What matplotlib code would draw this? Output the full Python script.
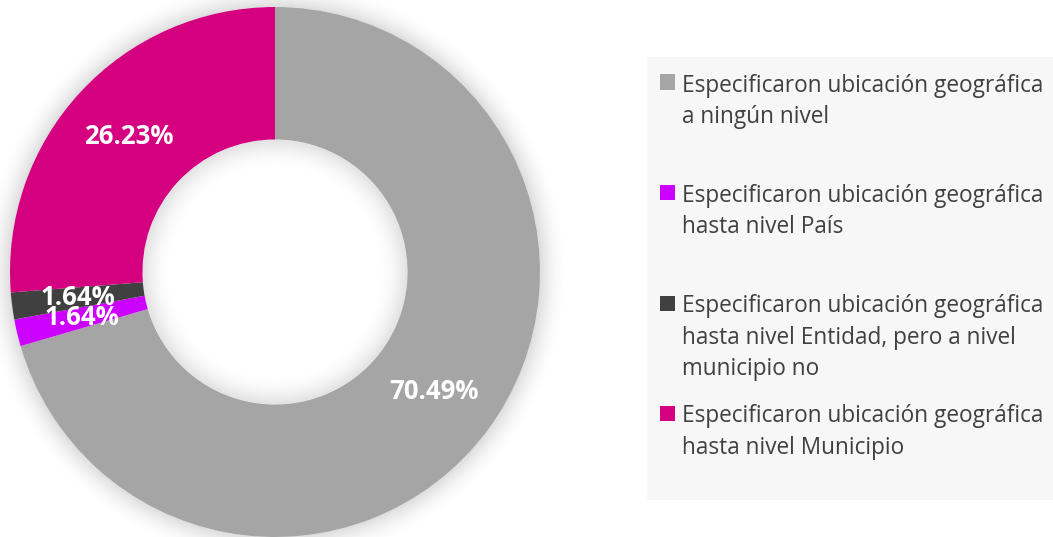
import matplotlib
matplotlib.use('Agg')
import matplotlib.pyplot as plt
from matplotlib.patches import Rectangle
import numpy as np

plt.rcParams['font.family'] = ['Open Sans', 'DejaVu Sans']

categorias = [
    'Especificaron ubicación geográfica\na ningún nivel',
    'Especificaron ubicación geográfica\nhasta nivel País',
    'Especificaron ubicación geográfica\nhasta nivel Entidad, pero a nivel\nmunicipio no',
    'Especificaron ubicación geográfica\nhasta nivel Municipio',
]
porcentajes = [70.49, 1.64, 1.64, 26.23]
colores = ['#A5A5A5', '#CC00FF', '#404040', '#D5007F']

W, H = 1053, 537
fig = plt.figure(figsize=(W / 100, H / 100), dpi=100)
fig.patch.set_facecolor('white')

# donut axes: centre at (275, 265) px from bottom-left, radius 265 px
cx, cy, R = 275, 265, 265
ax_w = 600
ax = fig.add_axes([0, 0, ax_w / W, 1])
xlim = (-cx / R, (ax_w - cx) / R)
ylim = (-cy / R, (H - cy) / R)

# soft shadow around the ring and inside the hole
gx = np.linspace(xlim[0], xlim[1], 900)
gy = np.linspace(ylim[0], ylim[1], 800)
X, Y = np.meshgrid(gx, gy)
r = np.hypot(X, Y) * R
d_out = np.clip(r - R, 0, None)
d_in = np.clip(R * 0.5 - r, 0, None)
alpha = np.zeros_like(r)
m_out = r > R
m_in = r < R * 0.5
alpha[m_out] = 0.14 * np.clip(1 - d_out[m_out] / 30, 0, 1) ** 2
alpha[m_in] = 0.12 * np.clip(1 - d_in[m_in] / 32, 0, 1) ** 2
shadow = np.zeros(r.shape + (4,))
shadow[..., 3] = alpha
ax.imshow(shadow, extent=(xlim[0], xlim[1], ylim[0], ylim[1]), origin='lower',
          zorder=0, interpolation='bilinear')

wedges, _, autotexts = ax.pie(
    porcentajes, colors=colores, startangle=90, counterclock=False,
    radius=1, wedgeprops=dict(width=0.5, linewidth=0),
    autopct='%.2f%%', pctdistance=0.75,
    textprops=dict(color='white', fontsize=18.5, fontweight='bold'))
for w in wedges:
    w.set_zorder(2)
for t in autotexts:
    t.set_zorder(3)
ax.set_xlim(*xlim)
ax.set_ylim(*ylim)
ax.set_aspect('auto')
ax.axis('off')

# legend panel
def fx(px):
    return px / W

def fy(py):
    return 1 - py / H

fig.patches.append(Rectangle((fx(647), fy(500)), fx(W - 647), 443 / H,
                             transform=fig.transFigure, facecolor='#F7F7F7',
                             edgecolor='none', zorder=0))
item_y = [82, 192, 303, 413]
for lab, col, y in zip(categorias, colores, item_y):
    fig.patches.append(Rectangle((fx(660), fy(y + 7.5)), 15 / W, 15 / H,
                                 transform=fig.transFigure, facecolor=col,
                                 edgecolor='none', zorder=1))
    fig.text(fx(682), fy(y - 8.5), lab, fontsize=16.3, color='#404040',
             ha='left', va='top', linespacing=1.40)

fig.savefig('out.png', dpi=100, facecolor='white')
plt.close(fig)
